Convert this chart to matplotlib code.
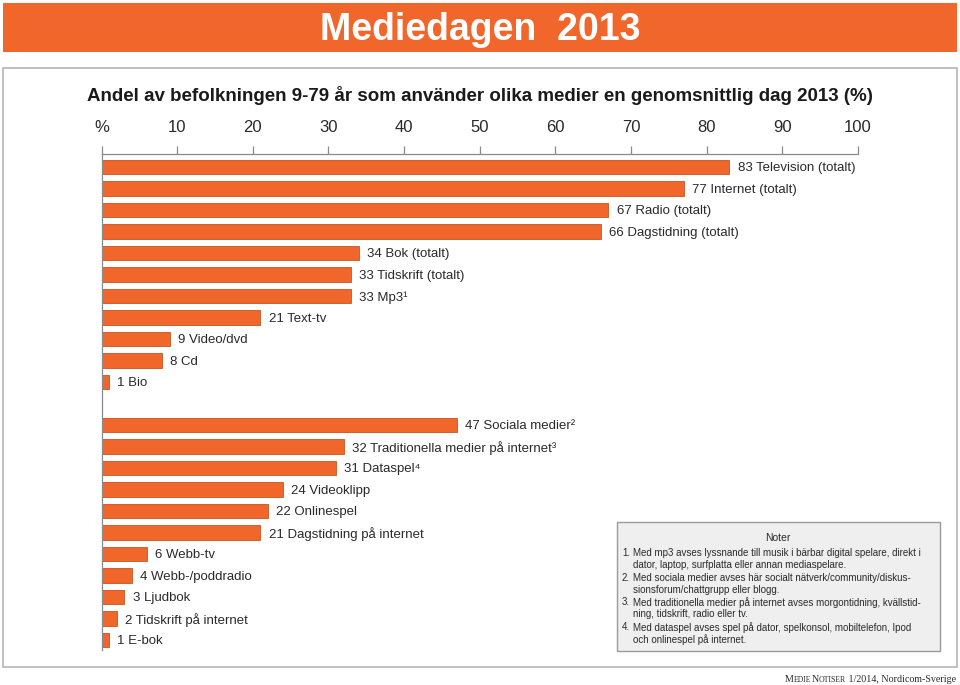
import matplotlib
matplotlib.use("Agg")
import matplotlib.pyplot as plt
from matplotlib.patches import Rectangle

# --- data ---------------------------------------------------------------
traditional = ["Television (totalt)", "Internet (totalt)", "Radio (totalt)",
               "Dagstidning (totalt)", "Bok (totalt)", "Tidskrift (totalt)",
               "Mp3\u00b9", "Text-tv", "Video/dvd", "Cd", "Bio"]
traditional_vals = [83, 77, 67, 66, 34, 33, 33, 21, 9, 8, 1]

digital = ["Sociala medier\u00b2", "Traditionella medier på internet\u00b3",
           "Dataspel\u2074", "Videoklipp", "Onlinespel",
           "Dagstidning på internet", "Webb-tv", "Webb-/poddradio",
           "Ljudbok", "Tidskrift på internet", "E-bok"]
digital_vals = [47, 32, 31, 24, 22, 21, 6, 4, 3, 2, 1]

ticks = [0, 10, 20, 30, 40, 50, 60, 70, 80, 90, 100]
tick_labels = ["%", "10", "20", "30", "40", "50", "60", "70", "80", "90", "100"]

notes = [
    ("1.", ["Med mp3 avses lyssnande till musik i bärbar digital spelare, direkt i",
            "dator, laptop, surfplatta eller annan mediaspelare."]),
    ("2.", ["Med sociala medier avses här socialt nätverk/community/diskus-",
            "sionsforum/chattgrupp eller blogg."]),
    ("3.", ["Med traditionella medier på internet avses morgontidning, kvällstid-",
            "ning, tidskrift, radio eller tv."]),
    ("4.", ["Med dataspel avses spel på dator, spelkonsol, mobiltelefon, Ipod",
            "och onlinespel på internet."]),
]

ORANGE = "#F1662A"
EDGE = "#C9541F"
SANS = ["Liberation Sans", "DejaVu Sans"]
TXT = "#2a2a2a"

W, H = 960, 685
fig = plt.figure(figsize=(W / 100, H / 100), dpi=100)
fig.patch.set_facecolor("white")

# background axes in pixel coordinates
bg = fig.add_axes([0, 0, 1, 1])
bg.set_xlim(0, W)
bg.set_ylim(H, 0)
bg.axis("off")

# orange banner
bg.add_patch(Rectangle((3, 3), 954, 49, facecolor=ORANGE, edgecolor="none"))
bg.text(480, 40, "Mediedagen  2013", color="white", fontsize=27,
        fontweight="bold", family=SANS, ha="center", va="baseline")

# panel
bg.add_patch(Rectangle((3, 68), 954, 599, facecolor="white",
                       edgecolor="#b5b5b5", linewidth=1.2))
bg.text(480, 95, "Andel av befolkningen 9-79 år som använder olika medier "
        "en genomsnittlig dag 2013 (%)", fontsize=13.5, fontweight="bold",
        family=SANS, ha="center", va="center", color="#1a1a1a")

# --- bar axes ------------------------------------------------------------
x0, x1 = 101.5, 858
y_top, y_bot = 154, 650
step = 21.5
first = 167
ax = fig.add_axes([x0 / W, 1 - y_bot / H, (x1 - x0) / W, (y_bot - y_top) / H])
ax.set_xlim(0, 100)
ax.set_ylim((y_bot - first) / step, (y_top - first) / step)

labels = traditional + digital
vals = traditional_vals + digital_vals
pos = list(range(len(traditional))) + \
    [len(traditional) + 1 + i for i in range(len(digital))]

ax.barh(pos, vals, height=0.66, color=ORANGE, edgecolor=EDGE, linewidth=0.6)
for p, v, lab in zip(pos, vals, labels):
    ax.annotate(f"{v} {lab}", (v, p), xytext=(6, 0), textcoords="offset points",
                va="center_baseline", ha="left", fontsize=9.5, family=SANS,
                color=TXT)

for s in ["right", "bottom"]:
    ax.spines[s].set_visible(False)
for s in ["top", "left"]:
    ax.spines[s].set_color("#8a8a8a")
    ax.spines[s].set_linewidth(0.9)
ax.xaxis.tick_top()
ax.set_xticks(ticks)
ax.set_xticklabels(tick_labels, family=SANS, fontsize=12, color=TXT)
ax.tick_params(axis="x", direction="out", length=6, width=0.9,
               color="#8a8a8a", pad=8)
ax.set_yticks([])
ax.set_facecolor("none")

# --- notes box -----------------------------------------------------------
bg.add_patch(Rectangle((617, 522), 323, 129, facecolor="#efefef",
                       edgecolor="#9a9a9a", linewidth=1.0, zorder=3))
bg.text(778, 537, "Noter", fontsize=7.5, family=SANS, ha="center",
        va="center_baseline", color=TXT, zorder=4)
y = 552
for num, lines in notes:
    bg.text(622, y, num, fontsize=7.0, family=SANS, va="center_baseline",
            color=TXT, zorder=4)
    for ln in lines:
        bg.text(633, y, ln, fontsize=7.0, family=SANS, va="center_baseline",
                color=TXT, zorder=4)
        y += 12
    y += 0.7

# --- footer (small caps), right aligned ----------------------------------
renderer = fig.canvas.get_renderer()
runs = [("M", 7.2), ("EDIE", 5.6), ("N", 7.2), ("OTISER", 5.6),
        (" 1/2014, Nordicom-Sverige", 7.2)]
parts = []
for s, size in runs:
    t = bg.text(0, 682, s, fontsize=size, family=["Liberation Serif"],
                va="baseline", ha="left", color=TXT)
    parts.append((t, t.get_window_extent(renderer).width))
x = 956 - sum(w for _, w in parts)
for t, w in parts:
    t.set_x(x)
    x += w

fig.savefig("out.png", dpi=100)
